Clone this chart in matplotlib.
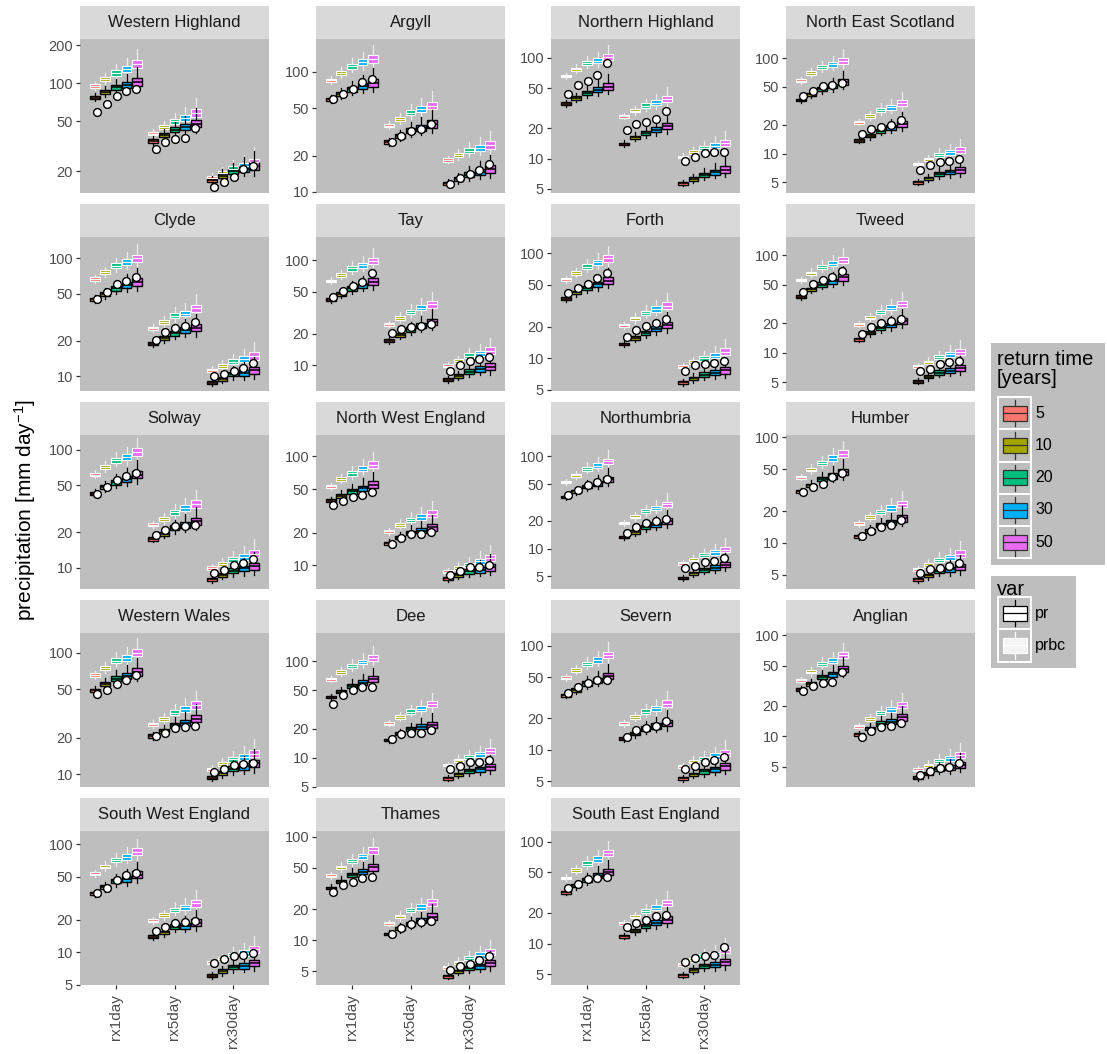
import numpy as np
import matplotlib
matplotlib.use("Agg")
import matplotlib.pyplot as plt
from matplotlib.ticker import FixedLocator, NullLocator, FuncFormatter
from matplotlib.patches import Rectangle

plt.rcParams['font.family'] = ['Liberation Sans', 'DejaVu Sans']
plt.rcParams['mathtext.default'] = 'regular'

# Data: medians per index [rx1day, rx5day, rx30day] x return time
regions = ["Western Highland", "Argyll", "Northern Highland", "North East Scotland",
           "Clyde", "Tay", "Forth", "Tweed",
           "Solway", "North West England", "Northumbria", "Humber",
           "Western Wales", "Dee", "Severn", "Anglian",
           "South West England", "Thames", "South East England"]
indices = ["rx1day", "rx5day", "rx30day"]
return_times = [5, 10, 20, 30, 50]
rt_colors = ['#F8766D', '#A3A500', '#00BF7D', '#00B0F6', '#E76BF3']

ylims = {
    "Western Highland": (13.5, 225), "Argyll": (9.8, 188),
    "Northern Highland": (4.56, 154), "North East Scotland": (3.86, 159),
    "Clyde": (7.46, 152), "Tay": (5.69, 167), "Forth": (4.89, 143), "Tweed": (4.08, 153),
    "Solway": (6.64, 133), "North West England": (6.07, 157),
    "Northumbria": (3.64, 170), "Humber": (3.65, 105),
    "Western Wales": (7.87, 145), "Dee": (4.96, 195), "Severn": (4.38, 133), "Anglian": (3.17, 105),
    "South West England": (5.0, 132), "Thames": (3.69, 114), "South East England": (3.94, 127),
}

pr_med = {
    "Western Highland": [[77, 85, 93, 97, 103], [35, 39, 43, 45, 48], [17, 18.5, 20, 21, 22]],
    "Argyll": [[59, 65.5, 72, 76.5, 81], [26, 29, 32.4, 34, 36.7], [11.8, 12.8, 13.9, 14.8, 15.5]],
    "Northern Highland": [[35, 40, 45, 48.5, 52], [14, 16.3, 18, 19.4, 21], [5.7, 6.3, 6.9, 7.3, 7.8]],
    "North East Scotland": [[36.6, 42, 47.7, 51, 56], [13.7, 15.4, 17.4, 18.9, 20.5], [5.0, 5.5, 6.1, 6.4, 6.8]],
    "Clyde": [[45, 50, 55.6, 59.4, 63], [18.9, 20.9, 23, 24.6, 25.7], [8.8, 9.5, 10.4, 10.7, 11.2]],
    "Tay": [[42, 47.8, 54, 58, 62.6], [17.2, 19.5, 22, 23.9, 26], [7.25, 7.9, 8.7, 9.2, 9.7]],
    "Forth": [[37, 42.5, 47, 50.7, 55], [13.7, 15.7, 17.5, 19.2, 20.8], [5.9, 6.45, 7.0, 7.3, 7.7]],
    "Tweed": [[37.6, 44.7, 50, 54, 59], [13.8, 16.1, 18.1, 19.3, 21.4], [5.1, 5.7, 6.3, 6.6, 7.0]],
    "Solway": [[42.5, 48, 53, 56.5, 61.5], [17.6, 19.5, 21.8, 23.2, 24.8], [8.0, 8.8, 9.5, 9.9, 10.3]],
    "North West England": [[39, 43.6, 47.8, 51, 55], [16, 18, 19.8, 20.8, 22.3], [7.6, 8.2, 8.8, 9.1, 9.6]],
    "Northumbria": [[36, 41.8, 47, 51, 56], [13.3, 15.1, 17, 18.2, 20], [4.8, 5.4, 5.9, 6.2, 6.7]],
    "Humber": [[30.8, 35, 40, 43, 47], [11.5, 13, 14.7, 15.6, 17], [4.5, 4.9, 5.4, 5.6, 5.9]],
    "Western Wales": [[49, 55, 61, 64, 69], [20.7, 22.7, 25.4, 26.6, 28.7], [9.4, 10.3, 11.1, 11.6, 12.3]],
    "Dee": [[42.4, 48, 55, 59.7, 64.6], [15.2, 17.7, 19.6, 20.8, 22], [6.1, 6.7, 7.3, 7.6, 8.0]],
    "Severn": [[33.4, 37.6, 43.6, 46.7, 51], [12.8, 14.3, 16, 16.9, 18.2], [5.3, 5.8, 6.2, 6.5, 6.9]],
    "Anglian": [[28.9, 32.8, 38.8, 41, 46], [10.5, 12, 13.4, 14, 15.4], [3.9, 4.3, 4.8, 4.9, 5.25]],
    "South West England": [[35, 40, 45.5, 47.5, 52], [14, 15.3, 17.3, 17.6, 18.8], [6.1, 6.7, 7.3, 7.5, 8.0]],
    "Thames": [[32, 37, 43, 46, 50.6], [11.5, 13, 14.3, 15.4, 16.9], [4.5, 5.0, 5.4, 5.6, 6.0]],
    "South East England": [[32, 37, 42, 46.4, 50], [11.8, 13.4, 15, 16, 17.2], [4.9, 5.5, 6.0, 6.2, 6.6]],
}

prbc_med = {
    "Western Highland": [[95, 108, 121, 130, 142], [40, 45, 50, 53, 58], [17.8, 19.3, 21, 22, 23.6]],
    "Argyll": [[85, 97.5, 111, 120, 128], [35.7, 40.6, 45.8, 49, 52.4], [18.5, 20.4, 22.1, 23.2, 24.6]],
    "Northern Highland": [[66, 77, 89, 94, 102], [26.4, 30, 33.6, 36, 39], [10.4, 11.6, 12.7, 13.5, 14.3]],
    "North East Scotland": [[58, 70, 80, 86.5, 94], [21.3, 24.8, 28.7, 30.6, 33.7], [7.8, 8.7, 9.7, 10.3, 10.9]],
    "Clyde": [[66.7, 76, 86.6, 92.5, 100], [25.4, 28.6, 32.6, 34, 37.6], [11.2, 12.2, 13.2, 13.9, 14.8]],
    "Tay": [[63.6, 72.5, 84, 90, 98.5], [24.6, 28.4, 32.4, 35.4, 38], [9.9, 11, 12.4, 13, 13.8]],
    "Forth": [[56.5, 65, 74.6, 82, 89.6], [20.6, 24, 27.2, 29.5, 31.8], [8.3, 9.2, 10, 10.6, 11.6]],
    "Tweed": [[55.6, 65, 75, 82, 89], [19.6, 23, 26, 29, 31.6], [7.3, 8.0, 9.0, 9.7, 10.3]],
    "Solway": [[61.5, 71, 81, 86, 95.6], [23.2, 26, 29.7, 32, 34.7], [10, 10.9, 11.8, 12.4, 13.2]],
    "North West England": [[53, 62, 70, 77, 84], [20.5, 23.6, 26, 27.8, 29.8], [8.7, 9.5, 10.1, 10.9, 11.7]],
    "Northumbria": [[52.7, 62, 73.5, 79, 88], [19, 22, 25.4, 27.6, 30], [6.9, 7.6, 8.5, 9.1, 9.75]],
    "Humber": [[41.8, 49.4, 57, 63.7, 70], [15.1, 17.5, 19.6, 21.4, 23.3], [5.6, 6.2, 6.9, 7.3, 7.9]],
    "Western Wales": [[65.5, 75, 85.5, 91, 100], [25.8, 28.7, 32, 34.7, 37], [11, 12.1, 13.3, 14, 14.8]],
    "Dee": [[64.6, 77, 88.8, 97.6, 108], [22.5, 26.3, 30, 32, 35.6], [8.4, 9.4, 10.2, 10.8, 11.7]],
    "Severn": [[49.5, 58.7, 66.5, 73, 82], [17.8, 20.7, 23.3, 25, 27.8], [6.9, 7.7, 8.2, 8.7, 9.35]],
    "Anglian": [[36, 43.5, 51.7, 55.8, 64], [12.6, 14.8, 17, 18.6, 20.5], [4.7, 5.2, 5.75, 6.1, 6.6]],
    "South West England": [[53, 62, 71, 76, 85], [19.6, 22, 24.6, 26, 28.3], [8.0, 8.7, 9.45, 9.9, 10.7]],
    "Thames": [[42, 50.6, 58.6, 64.6, 74], [14.6, 17, 19.5, 21, 23.2], [5.5, 6.1, 6.7, 7.2, 7.7]],
    "South East England": [[44, 52.7, 61, 67.6, 77], [15.8, 18.4, 21, 22.4, 24.9], [6.3, 6.9, 7.5, 7.9, 8.7]],
}

obs_val = {
    "Western Highland": [[59, 69, 80, 87, 91], [30, 34, 36, 37, 44.5], [15, 16.6, 18.2, 20.8, 22]],
    "Argyll": [[60, 66, 72.6, 83, 87], [26, 29.3, 32.4, 33.7, 36.7], [11.6, 13, 14.1, 15.2, 17.1]],
    "Northern Highland": [[44, 54, 58.7, 68, 88], [19.4, 22.3, 23.3, 25, 30], [9.4, 10.4, 11.4, 11.7, 11.7]],
    "North East Scotland": [[40.6, 45, 51, 52, 55], [16, 18, 18.8, 20, 22.6], [6.8, 7.6, 8.1, 8.4, 8.7]],
    "Clyde": [[44.8, 51.7, 61, 64.6, 69], [20.2, 23.5, 25.4, 26.8, 29], [10, 10.5, 11.1, 11.6, 13]],
    "Tay": [[45, 51, 57, 62.6, 75], [20.2, 22, 23.2, 23.9, 25], [8.8, 10, 11, 11.4, 11.9]],
    "Forth": [[41.6, 47, 51, 58.7, 65], [16, 18.6, 20.3, 21.6, 23.5], [7.5, 8.6, 8.8, 9.1, 9.4]],
    "Tweed": [[42, 50.6, 55.6, 59, 69], [15.6, 18.3, 20, 21, 22], [6.6, 6.9, 7.7, 8.1, 8.3]],
    "Solway": [[42.5, 48, 55, 59.5, 64], [18.9, 20.8, 22.8, 22.8, 23], [9.0, 9.7, 10.5, 11, 12]],
    "North West England": [[36, 39, 42, 44, 46.8], [15.8, 18, 19.4, 19.5, 20.2], [8.1, 8.8, 9.6, 9.6, 10]],
    "Northumbria": [[38.5, 43.6, 48.5, 52, 57], [14.8, 17, 19, 19.8, 21], [6.1, 6.5, 7.1, 7.4, 7.9]],
    "Humber": [[30, 34, 36, 41.8, 46], [11.5, 12.9, 14.1, 14.7, 16.3], [5.2, 5.65, 5.8, 6.0, 6.4]],
    "Western Wales": [[45.5, 49, 55, 59.6, 65.5], [20.5, 22, 23.9, 24.5, 25], [10.5, 11.1, 11.9, 12.1, 12.5]],
    "Dee": [[35.6, 44, 49.7, 53.8, 54], [15.5, 17.7, 18, 18, 19.3], [7.6, 8.2, 8.9, 9.1, 9.5]],
    "Severn": [[35.5, 40, 44, 46.7, 47], [13.3, 15.4, 16.1, 16.9, 18.9], [6.5, 7.0, 7.7, 7.95, 8.5]],
    "Anglian": [[28, 31.6, 34, 34.6, 42.8], [9.8, 11.2, 12.3, 12.6, 13.5], [4.15, 4.6, 4.9, 4.95, 5.5]],
    "South West England": [[35, 39.5, 47, 52, 54], [15.8, 17.3, 18.8, 18.9, 19.3], [8.0, 8.7, 9.3, 9.45, 9.9]],
    "Thames": [[29, 34, 37, 39.6, 41], [11.6, 13.1, 14.3, 15.1, 15.4], [5.2, 5.6, 5.9, 6.5, 7.0]],
    "South East England": [[35, 38.5, 43, 44, 45.4], [14.5, 16, 17.1, 18.5, 19.2], [6.6, 7.2, 7.6, 7.8, 9.2]],
}

# approximate spread of the ensemble boxes (log10 units) per return time
box_half = [0.014, 0.017, 0.021, 0.025, 0.031]
whisk_lo = [0.03, 0.04, 0.05, 0.06, 0.075]
whisk_hi = [0.035, 0.05, 0.07, 0.09, 0.12]

W, H = 1107, 1054
PANEL_BG = '#BEBEBE'
STRIP_BG = '#D9D9D9'
col_left = [80, 316, 551, 786]
row_top = [6, 204, 402, 600, 798]
pw, strip_h, ph = 189, 33, 154


def px_rect(left, top, w, h):
    return [left / W, 1 - (top + h) / H, w / W, h / H]


def stats(med, k):
    lm = np.log10(med)
    return dict(med=med, q1=10 ** (lm - box_half[k]), q3=10 ** (lm + box_half[k]),
                whislo=10 ** (lm - whisk_lo[k]), whishi=10 ** (lm + whisk_hi[k]), fliers=[])


fig = plt.figure(figsize=(W / 100, H / 100), dpi=100)
fig.patch.set_facecolor('white')

for n, region in enumerate(regions):
    r, c = divmod(n, 4)
    top = row_top[r]
    sax = fig.add_axes(px_rect(col_left[c], top, pw, strip_h))
    sax.set_facecolor(STRIP_BG)
    sax.set_xticks([]); sax.set_yticks([])
    for s in sax.spines.values():
        s.set_visible(False)
    sax.text(0.5, 0.5, region, ha='center', va='center', fontsize=12, color='#1A1A1A',
             transform=sax.transAxes)

    ax = fig.add_axes(px_rect(col_left[c], top + strip_h, pw, ph))
    ax.set_facecolor(PANEL_BG)
    for s in ax.spines.values():
        s.set_visible(False)

    for i in range(3):
        for k in range(5):
            xb = i + 1 + 0.18 * (k - 2)
            # bias-corrected ensemble (prbc)
            ax.bxp([stats(prbc_med[region][i][k], k)], positions=[xb], widths=0.17,
                   patch_artist=True, showcaps=False, manage_ticks=False,
                   boxprops=dict(facecolor=rt_colors[k], edgecolor='white', linewidth=0.8),
                   medianprops=dict(color='white', linewidth=0.9),
                   whiskerprops=dict(color='#EDEDED', linewidth=0.9))
        for k in range(5):
            xb = i + 1 + 0.18 * (k - 2)
            # raw ensemble (pr)
            ax.bxp([stats(pr_med[region][i][k], k)], positions=[xb], widths=0.17,
                   patch_artist=True, showcaps=False, manage_ticks=False,
                   boxprops=dict(facecolor=rt_colors[k], edgecolor='black', linewidth=1.0),
                   medianprops=dict(color='black', linewidth=1.1),
                   whiskerprops=dict(color='black', linewidth=0.9))
        xo = [i + 1 + 0.01 + 0.167 * (k - 2) for k in range(5)]
        ax.plot(xo, obs_val[region][i], linestyle='none', marker='o', markersize=5.6,
                markerfacecolor='white', markeredgecolor='black', markeredgewidth=1.0, zorder=5)

    ax.set_yscale('log')
    ax.set_ylim(*ylims[region])
    ax.yaxis.set_major_locator(FixedLocator([5, 10, 20, 50, 100, 200]))
    ax.yaxis.set_minor_locator(NullLocator())
    ax.yaxis.set_major_formatter(FuncFormatter(lambda v, p: f'{v:g}'))
    ax.set_xlim(0.385, 3.615)
    ax.set_xticks([1, 2, 3])
    ax.tick_params(axis='y', length=3, width=0.9, color='#333333', pad=2,
                   labelsize=10.5, labelcolor='#4D4D4D')
    if r == 4:
        ax.set_xticklabels(indices, rotation=90)
        ax.tick_params(axis='x', length=3, width=0.9, color='#333333', pad=3.5,
                       labelsize=11, labelcolor='#4D4D4D')
    else:
        ax.tick_params(axis='x', bottom=False, labelbottom=False)

fig.text(25 / W, 1 - 510 / H, 'precipitation [mm day$^{-1}$]', rotation=90,
         ha='center', va='center', fontsize=15, color='black')

# legend: return time
lax = fig.add_axes(px_rect(991, 343, 114, 222))
lax.set_xlim(0, 114); lax.set_ylim(222, 0)
lax.set_facecolor(PANEL_BG)
lax.set_xticks([]); lax.set_yticks([])
for s in lax.spines.values():
    s.set_visible(False)
lax.text(6, 7, 'return time\n[years]', ha='left', va='top', fontsize=14.5, linespacing=1.0)
for k, rt in enumerate(return_times):
    y0 = 54 + 32.3 * k
    yc = y0 + 16.1
    lax.add_patch(Rectangle((7, y0), 33, 32.3, facecolor=PANEL_BG, edgecolor='white', lw=1.4))
    lax.plot([23.5, 23.5], [y0 + 3, y0 + 29.3], color='#333333', lw=0.9)
    lax.add_patch(Rectangle((11.5, yc - 7.5), 24, 15, facecolor=rt_colors[k],
                            edgecolor='#333333', lw=0.9, zorder=3))
    lax.plot([11.5, 35.5], [yc, yc], color='#333333', lw=0.9, zorder=4)
    lax.text(44, yc, str(rt), ha='left', va='center', fontsize=11.5)

# legend: var
vax = fig.add_axes(px_rect(991, 576, 85, 92))
vax.set_xlim(0, 85); vax.set_ylim(92, 0)
vax.set_facecolor(PANEL_BG)
vax.set_xticks([]); vax.set_yticks([])
for s in vax.spines.values():
    s.set_visible(False)
vax.text(6, 4, 'var', ha='left', va='top', fontsize=14.5)
for k, (lab, edge, face) in enumerate([('pr', 'black', 'white'), ('prbc', 'white', '#F4F4F4')]):
    y0 = 21 + 32.3 * k
    yc = y0 + 16.1
    vax.add_patch(Rectangle((7, y0), 33, 32.3, facecolor=PANEL_BG, edgecolor='white', lw=1.4))
    vax.plot([23.5, 23.5], [y0 + 3, y0 + 29.3], color=edge, lw=0.9)
    vax.add_patch(Rectangle((11.5, yc - 7.5), 24, 15, facecolor=face, edgecolor=edge, lw=0.9, zorder=3))
    vax.plot([11.5, 35.5], [yc, yc], color=edge, lw=0.9, zorder=4)
    vax.text(44, yc, lab, ha='left', va='center', fontsize=11.5)

fig.savefig('out.png', dpi=100)
